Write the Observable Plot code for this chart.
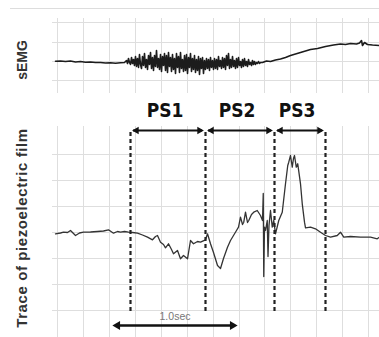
<!DOCTYPE html>
<html><head><meta charset="utf-8">
<script src="https://cdn.jsdelivr.net/npm/d3@7"></script>
<script src="https://cdn.jsdelivr.net/npm/@observablehq/plot@0.6"></script>
<style>
html,body{margin:0;padding:0;background:#fff;}
#wrap{position:relative;width:379px;height:337px;overflow:hidden;background:#fff;}
#wrap svg{position:absolute;left:0;overflow:visible;}
#rule{position:absolute;left:10px;top:8px;width:369px;height:1px;background:#ddd;}
.ylab{position:absolute;transform:translate(-50%,-50%) rotate(-90deg);white-space:nowrap;font-family:"Liberation Sans",Arial,sans-serif;font-weight:bold;color:#333;line-height:1;}
</style></head><body><div id="wrap"><div id="rule"></div></div>
<script>
// time in ms, amplitudes in arbitrary units
const gridX = [0,208,416,624,832,1040,1248,1456,1656,1864,2072,2280,2488];
const semgGridY = [-19,0,19,39];
const piezoGridY = [-78,-52,-26,0,26,52,78];

const semgBase = [[-16,0.3],[24,0.5],[64,0],[104,0.5],[144,-0.5],[184,0],[224,-0.8],[264,-0.5],[304,-1],[344,-1],[384,-1.5],[424,-1.2],[464,-1.8],[504,-1.2],[536,-1]];
const semgBurstStart = 552, semgBurstStep = 8;
const semgBurst = [
  1,-2,3,-1,-3,4,-2,2,-4,5,
  -5,3,-6,7,-3,-7,5,-4,8,-6,
  2,-8,6,-3,9,-7,4,-9,6,-5,
  11,-6,3,-8,7,-10,5,-4,8,-9,
  6,-11,9,-5,4,-10,7,-8,3,-12,
  8,-6,5,-11,9,-7,2,-10,6,-9,
  7,-12,4,-6,8,-10,3,-8,6,-11,
  2,-9,5,-13,3,-7,4,-12,1,-8,
  3,-7,2,-9,4,-6,1,-8,3,-7,
  2,-8,5,-5,1,-7,4,-6,3,-8,
  6,-4,8,-7,2,-6,5,-5,1,-7,
  3,-6,4,-4,0,-6,2,-5,3,-4,
  0,-5,2,-3,-1,-4,1,-3,0,-3,
  -1,-2,0,-2,-1,-1];
const semgRise = [[1640,-1],[1672,0.5],[1704,0],[1744,1.5],[1784,2.5],[1824,4],[1864,6],[1904,7.5],[1944,9],[1984,10.5],[2024,12],[2080,13],[2144,15],[2208,16.5],[2264,17.5],[2304,17],[2344,18],[2392,17.5],[2416,18.5],[2432,21],[2440,16],[2456,19],[2480,17],[2520,16.5],[2576,16]];

const piezo = [[-16,-1.3],[24,-0.5],[48,0.3],[80,0],[104,2],[144,-3],[176,-0.5],[208,0.3],[264,0.5],[320,1],[368,1.5],[408,2.7],[448,-0.7],[480,1],[504,0.3],[536,1],[568,0.3],[600,0],[640,-0.7],[680,-2.5],[720,-4.7],[760,-7.3],[784,-4],[800,-3],[824,-9.7],[848,-12],[864,-15.3],[888,-11.3],[912,-17],[928,-21.3],[960,-18],[984,-26.3],[1008,-23],[1040,-26.3],[1064,-8],[1088,-11.3],[1120,-9],[1144,-9.7],[1184,-7.3],[1200,-1.3],[1224,-11.3],[1248,-20],[1280,-33],[1304,-36],[1328,-26],[1360,-14.7],[1384,-8],[1408,-3],[1432,2],[1448,5.3],[1464,15.3],[1480,8],[1490,10.3],[1504,20.3],[1520,10],[1530,12],[1552,18],[1570,20.3],[1598,22],[1624,17],[1640,12],[1646,39],[1650,-44],[1656,5.3],[1664,2],[1678,12],[1684,-24],[1692,7],[1704,22],[1718,5.3],[1730,12],[1744,-1.3],[1770,12],[1798,20.3],[1824,48.7],[1842,67],[1850,70.3],[1864,77],[1878,65.3],[1888,74],[1896,77],[1910,65.3],[1922,68.7],[1944,48.7],[1958,28.7],[1976,10.3],[1984,4.7],[2024,5.3],[2064,3.7],[2104,0.3],[2144,-3],[2184,-4.7],[2238,-3],[2264,0.3],[2290,-4.7],[2344,-4],[2424,-4.7],[2504,-4.7],[2558,-6.3],[2576,-4.7]];

const phases = ["PS1","PS2","PS3"];
const phaseStart = [584,1184,1736];
const phaseEnd = [1184,1736,2144];
const boundaries = [584,1184,1736,2144];
const barStart = 440, barEnd = 1440, barLabel = "1.0sec";
const semgLabel = "sEMG", piezoLabel = "Trace of piezoelectric film";

const semg = [
  ...semgBase.map(([t,v])=>({t,v})),
  ...semgBurst.map((v,i)=>({t: semgBurstStart + i*semgBurstStep, v})),
  ...semgRise.map(([t,v])=>({t,v}))
];
const piezoData = piezo.map(([t,v])=>({t,v}));
const ph = phases.map((name,i)=>({name, s: phaseStart[i], e: phaseEnd[i], m: (phaseStart[i]+phaseEnd[i])/2}));
const bar = [{s: barStart, e: barEnd, m: (barStart+barEnd)/2, label: barLabel}];

const labelFont = "Liberation Sans, Arial, sans-serif";
const psFont = "Liberation Sans Narrow, DejaVu Sans Condensed, sans-serif";

const topPlot = Plot.plot({
  width: 379, height: 95, marginTop: 18, marginBottom: 2, marginLeft: 52, marginRight: 0,
  x: {domain: [-40, 2576], axis: null},
  y: {domain: [-32, 43], axis: null},
  marks: [
    Plot.ruleX(gridX, {stroke: "#dedede", strokeWidth: 1}),
    Plot.ruleY(semgGridY, {stroke: "#dedede", strokeWidth: 1}),
    Plot.line(semg, {x: "t", y: "v", stroke: "#1c1c1c", strokeWidth: 1.6})
  ]
});
topPlot.style.top = "0px";

const bottomPlot = Plot.plot({
  width: 379, height: 242, marginTop: 31, marginBottom: 0, marginLeft: 52, marginRight: 0,
  x: {domain: [-40, 2576], axis: null},
  y: {domain: [-105, 106], axis: null},
  marks: [
    Plot.ruleX(gridX, {stroke: "#dedede", strokeWidth: 1}),
    Plot.ruleY(piezoGridY, {stroke: "#dedede", strokeWidth: 1}),
    Plot.line(piezoData, {x: "t", y: "v", stroke: "#333", strokeWidth: 1.3}),
    Plot.ruleX(boundaries, {y1: 100, y2: -82, stroke: "#222", strokeWidth: 2.2, strokeDasharray: "4,3"}),
    Plot.ruleY(ph, {x1: "s", x2: "e", y: 102, stroke: "#111", strokeWidth: 2, insetLeft: 3, insetRight: 3}),
    Plot.dot(ph, {x: "s", y: 102, symbol: "triangle", r: 2.8, rotate: -90, dx: 6, fill: "#111", stroke: "none"}),
    Plot.dot(ph, {x: "e", y: 102, symbol: "triangle", r: 2.8, rotate: 90, dx: -6, fill: "#111", stroke: "none"}),
    Plot.text(ph, {x: "m", y: 122, text: "name", dx: -3, fontSize: 19, fontWeight: "bold", fill: "#111", fontFamily: psFont}),
    Plot.ruleY(bar, {x1: "s", x2: "e", y: -93, stroke: "#111", strokeWidth: 2.6, insetLeft: 3, insetRight: 3}),
    Plot.dot(bar, {x: "s", y: -93, symbol: "triangle", r: 3.3, rotate: -90, dx: 5, fill: "#111", stroke: "none"}),
    Plot.dot(bar, {x: "e", y: -93, symbol: "triangle", r: 3.3, rotate: 90, dx: -5, fill: "#111", stroke: "none"}),
    Plot.text(bar, {x: "m", y: -84, text: "label", fontSize: 10.5, fill: "#777", fontFamily: labelFont})
  ]
});
bottomPlot.style.top = "95px";

const wrap = document.getElementById("wrap");
wrap.appendChild(topPlot);
wrap.appendChild(bottomPlot);

function addLabel(text, cx, cy, size, spacing) {
  const d = document.createElement("div");
  d.className = "ylab";
  d.textContent = text;
  d.style.left = cx + "px";
  d.style.top = cy + "px";
  d.style.fontSize = size + "px";
  d.style.letterSpacing = spacing + "px";
  wrap.appendChild(d);
}
addLabel(semgLabel, 22, 60, 14, 0);
addLabel(piezoLabel, 21, 228, 15, 0.6);
</script></body></html>
